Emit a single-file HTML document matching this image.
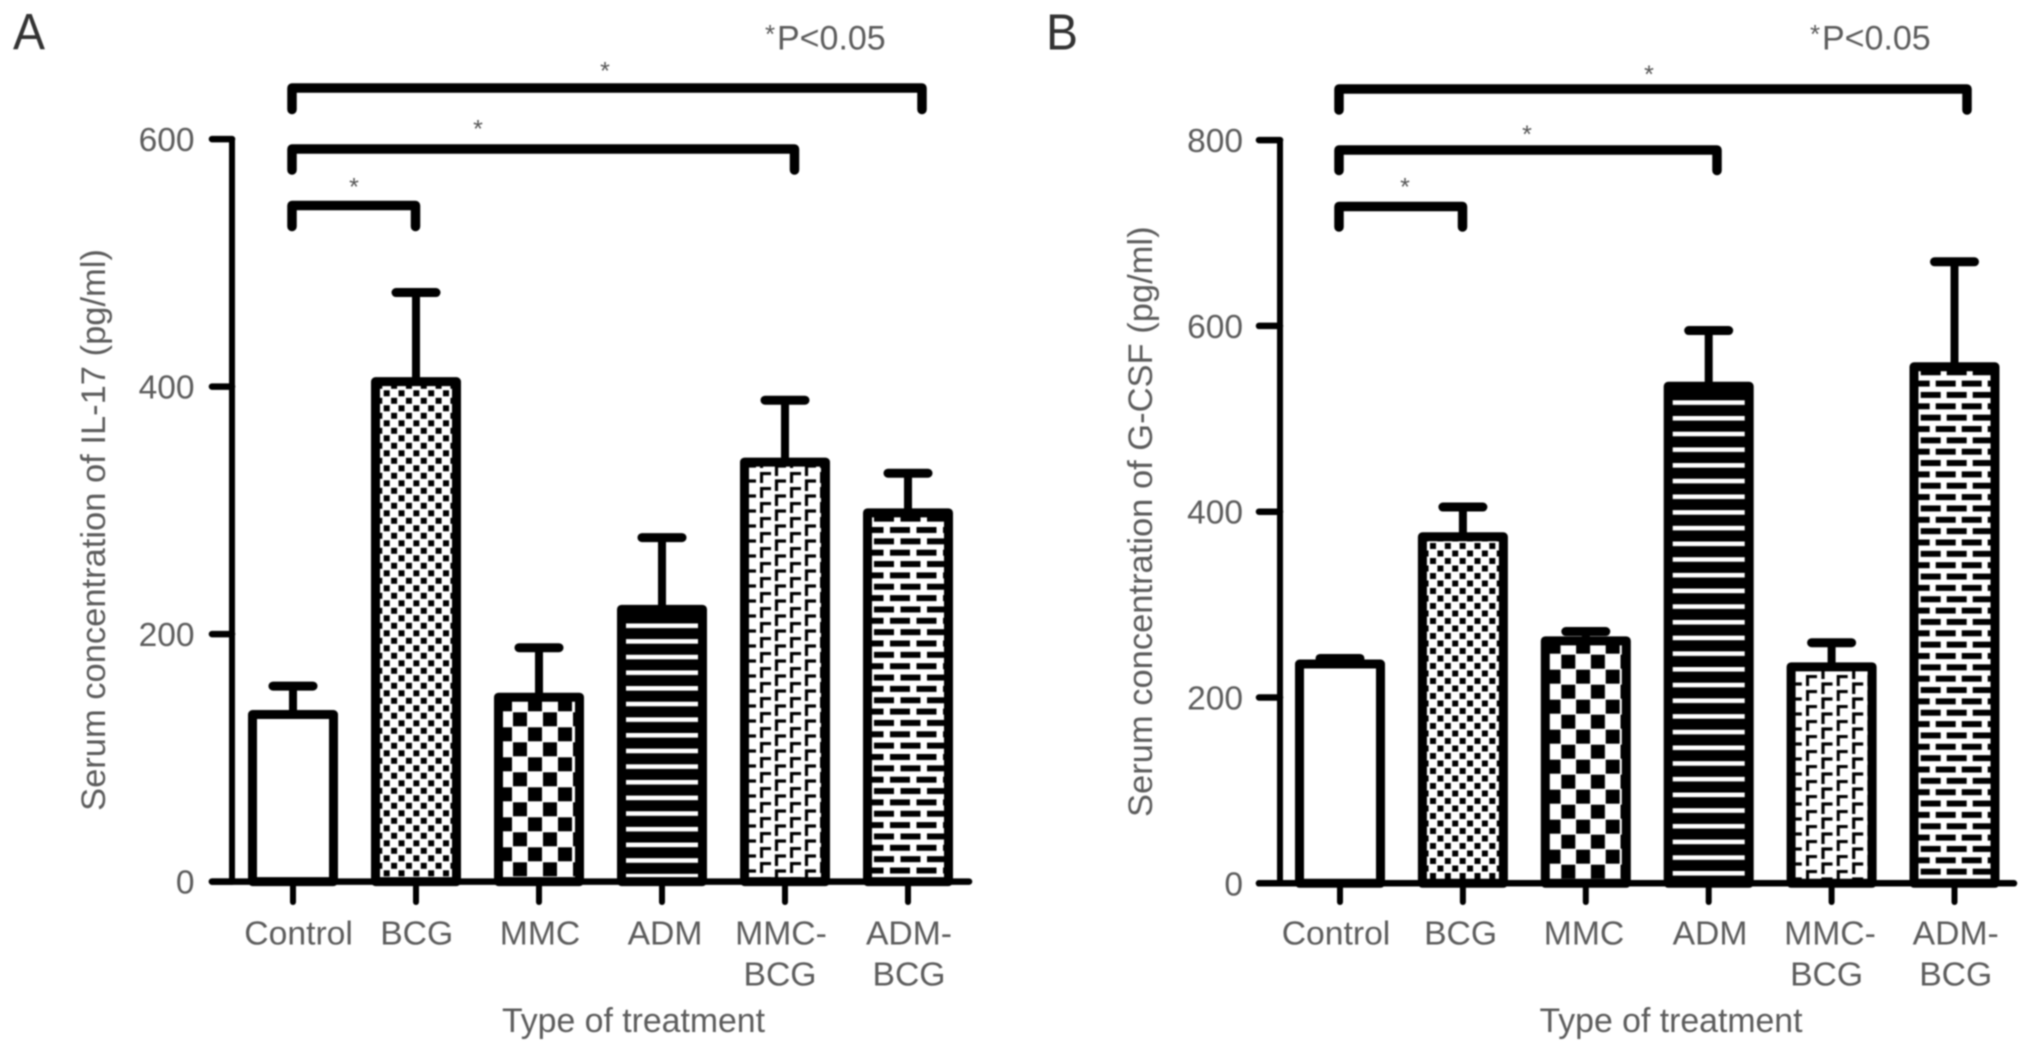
<!DOCTYPE html>
<html lang="en">
<head>
<meta charset="utf-8">
<title>Serum concentration of IL-17 and G-CSF by type of treatment</title>
<style>
html,body{margin:0;padding:0;background:#fff;}
body{width:2032px;height:1052px;overflow:hidden;}
svg{display:block;filter:blur(0.7px);}
text{font-family:"Liberation Sans",sans-serif;fill:#5c5c5c;}
</style>
</head>
<body>
<svg id="figure" xmlns="http://www.w3.org/2000/svg" width="2032" height="1052" viewBox="0 0 2032 1052">
  <defs>
    <pattern id="a-bcg" patternUnits="userSpaceOnUse" x="383.7" y="390.3" width="14.83" height="15">
      <rect width="15" height="15" fill="#fff"/><rect width="6" height="6" fill="#000"/><rect x="7.4" y="7.5" width="6" height="6" fill="#000"/>
    </pattern>
    <pattern id="a-mmc" patternUnits="userSpaceOnUse" x="513" y="712.3" width="30" height="30">
      <rect width="30" height="30" fill="#fff"/><rect width="14" height="14" fill="#000"/><rect x="15" y="15" width="14" height="14" fill="#000"/>
    </pattern>
    <pattern id="a-adm" patternUnits="userSpaceOnUse" x="0" y="701.7" width="10" height="15.65">
      <rect width="10" height="15.65" fill="#000"/><rect width="10" height="4.6" fill="#fff"/>
    </pattern>
    <pattern id="a-mmcbcg" patternUnits="userSpaceOnUse" x="760" y="472" width="30" height="15">
      <rect width="30" height="15" fill="#fff"/>
      <path d="M1.5 11V1.5H11M16.5 19V9H26M16.5 4V-6H26" fill="none" stroke="#000" stroke-width="3.2"/>
    </pattern>
    <pattern id="a-admbcg" patternUnits="userSpaceOnUse" x="890" y="527" width="26.5" height="22.7">
      <rect width="26.5" height="22.7" fill="#fff"/>
      <rect width="20" height="6" fill="#000"/><rect x="10.5" y="11.35" width="20" height="6" fill="#000"/><rect x="-16" y="11.35" width="20" height="6" fill="#000"/>
    </pattern>
    <pattern id="b-bcg" patternUnits="userSpaceOnUse" x="1430" y="543" width="14.83" height="15">
      <rect width="15" height="15" fill="#fff"/><rect width="6" height="6" fill="#000"/><rect x="7.4" y="7.5" width="6" height="6" fill="#000"/>
    </pattern>
    <pattern id="b-mmc" patternUnits="userSpaceOnUse" x="1561.3" y="654.7" width="29.6" height="30">
      <rect width="30" height="30" fill="#fff"/><rect width="14" height="14" fill="#000"/><rect x="14.8" y="15" width="14" height="14" fill="#000"/>
    </pattern>
    <pattern id="b-adm" patternUnits="userSpaceOnUse" x="0" y="400.3" width="10" height="15.69">
      <rect width="10" height="15.69" fill="#000"/><rect width="10" height="4.6" fill="#fff"/>
    </pattern>
    <pattern id="b-mmcbcg" patternUnits="userSpaceOnUse" x="1806" y="675" width="30.7" height="15">
      <rect width="31" height="15" fill="#fff"/>
      <path d="M1.5 11V1.5H11M17 19V9H26.5M17 4V-6H26.5" fill="none" stroke="#000" stroke-width="3.2"/>
    </pattern>
    <pattern id="b-admbcg" patternUnits="userSpaceOnUse" x="1935.7" y="653" width="26" height="22.7">
      <rect width="26" height="22.7" fill="#fff"/>
      <rect width="20" height="6" fill="#000"/><rect x="11" y="11.35" width="20" height="6" fill="#000"/><rect x="-15" y="11.35" width="20" height="6" fill="#000"/>
    </pattern>
  </defs>

  <text x="13" y="49.6" font-size="51" textLength="32" lengthAdjust="spacingAndGlyphs" style="fill:#333">A</text>
  <text x="1046" y="49.6" font-size="51" textLength="32" lengthAdjust="spacingAndGlyphs" style="fill:#333">B</text>

  <text x="765" y="43" font-size="26">*</text>
  <text x="777" y="49.6" font-size="34">P&lt;0.05</text>
  <text x="1810" y="43" font-size="26">*</text>
  <text x="1822" y="49.6" font-size="34">P&lt;0.05</text>

  <g fill="none" stroke="#000" stroke-width="9.5" stroke-linecap="round" stroke-linejoin="round">
    <path d="M292 109.5V88H922V109.5"/>
    <path d="M292 170V149H794.5V170"/>
    <path d="M292 226.5V205.5H415.5V226.5"/>
  </g>
  <g font-size="25" text-anchor="middle">
    <text x="605" y="79.5" style="fill:#555">*</text>
    <text x="478" y="137.5" style="fill:#555">*</text>
    <text x="354" y="195.5" style="fill:#555">*</text>
  </g>
  <g fill="none" stroke="#000" stroke-width="9.5" stroke-linecap="round" stroke-linejoin="round">
    <path d="M1339 110V89H1967V110"/>
    <path d="M1339 170.5V150H1717V170.5"/>
    <path d="M1339 227V206.5H1462.5V227"/>
  </g>
  <g font-size="25" text-anchor="middle">
    <text x="1649" y="83" style="fill:#555">*</text>
    <text x="1527" y="143" style="fill:#555">*</text>
    <text x="1405" y="195.5" style="fill:#555">*</text>
  </g>
</svg>

<script>
// ---- Chart data ----
const categories = [["Control"], ["BCG"], ["MMC"], ["ADM"], ["MMC-", "BCG"], ["ADM-", "BCG"]];
const il17Means = [135, 404, 149, 220, 339, 298];
const il17ErrorTops = [158, 476, 189, 278, 389, 330];
const il17Ticks = [0, 200, 400, 600];
const gcsfMeans = [236, 373, 261, 535, 233, 556];
const gcsfErrorTops = [242, 405, 271, 595, 259, 669];
const gcsfTicks = [0, 200, 400, 600, 800];

// ---- Layout (not data) ----
const layoutA = {
  id: "a", yAxisX: 232, axisLeft: 209, axisRight: 972, baseline: 881.6, pxPerUnit: 247.5 / 200,
  firstBar: 293, barStep: 123, tickLabelRight: 194.5,
  labelNudge: [5.6, 0.7, 1, 3, -4, 1],
  yTitle: "Serum concentration of IL-17 (pg/ml)", yTitleX: 105, yTitleY: 530,
  xTitleX: 633.5
};
const layoutB = {
  id: "b", yAxisX: 1280, axisLeft: 1256, axisRight: 2017, baseline: 883.3, pxPerUnit: 185.8 / 200,
  firstBar: 1340, barStep: 122.9, tickLabelRight: 1243,
  labelNudge: [-4, -2.3, -1.8, 1.3, -1.6, 1.2],
  yTitle: "Serum concentration of G-CSF (pg/ml)", yTitleX: 1152, yTitleY: 521.7,
  xTitleX: 1671
};
const fillSuffixes = ["", "bcg", "mmc", "adm", "mmcbcg", "admbcg"];

const SVG_NS = "http://www.w3.org/2000/svg";
const figure = document.getElementById("figure");

function make(tag, attrs, parent, content) {
  const el = document.createElementNS(SVG_NS, tag);
  for (const k in attrs) el.setAttribute(k, attrs[k]);
  if (content !== undefined) el.textContent = content;
  parent.appendChild(el);
  return el;
}

function drawPanel(layout, means, errorTops, ticks) {
  const yScale = v => layout.baseline - v * layout.pxPerUnit;
  const xScale = i => layout.firstBar + i * layout.barStep;

  const panel = make("g", {}, figure);
  
  

  // y axis line
  const yAxis = make("line", {
    x1: layout.yAxisX, x2: layout.yAxisX,
    y1: yScale(ticks[ticks.length - 1]), y2: layout.baseline,
    stroke: "#000", "stroke-width": 6, "stroke-linecap": "round"
  }, panel);
  
  

  // y ticks and labels
  ticks.forEach(t => {
    const tick = make("line", {
      x1: layout.axisLeft + 3, x2: layout.yAxisX,
      y1: yScale(t), y2: yScale(t),
      stroke: "#000", "stroke-width": 6.5, "stroke-linecap": "round"
    }, panel);
    
    

    const label = make("text", {
      x: layout.tickLabelRight, y: yScale(t) + 12,
      "text-anchor": "end", "font-size": 33.5
    }, panel, String(t));
    
    
  });

  // bars with error bars
  categories.forEach((lines, i) => {
    const cx = xScale(i);
    const top = yScale(means[i]);
    const errY = yScale(errorTops[i]);

    const stem = make("line", {
      x1: cx, x2: cx, y1: errY, y2: top,
      stroke: "#000", "stroke-width": 8
    }, panel);
    
    

    const cap = make("line", {
      x1: cx - 20, x2: cx + 20, y1: errY, y2: errY,
      stroke: "#000", "stroke-width": 9, "stroke-linecap": "round"
    }, panel);
    
    

    const fill = i === 0 ? "#fff" : "url(#" + layout.id + "-" + fillSuffixes[i] + ")";
    const bar = make("rect", {
      x: cx - 40.5, y: top, width: 81, height: layout.baseline - top,
      fill: fill, stroke: "#000", "stroke-width": 9, "stroke-linejoin": "round"
    }, panel);
    
    

    const xTick = make("line", {
      x1: cx, x2: cx, y1: layout.baseline, y2: 902,
      stroke: "#000", "stroke-width": 6, "stroke-linecap": "round"
    }, panel);
    
    

    lines.forEach((line, n) => {
      const nudge = n === 1 && i === 4 ? -5 : layout.labelNudge[i];
      const label = make("text", {
        x: cx + nudge, y: 944.7 + n * 40.9,
        "text-anchor": "middle", "font-size": 33.7
      }, panel, line);
      
      
    });
  });

  // baseline (x axis)
  const xAxis = make("line", {
    x1: layout.axisLeft + 3, x2: layout.axisRight - 3,
    y1: layout.baseline, y2: layout.baseline,
    stroke: "#000", "stroke-width": 6.5, "stroke-linecap": "round"
  }, panel);
  
  

  // axis titles
  const yTitle = make("text", {
    x: layout.yTitleX, y: layout.yTitleY,
    transform: "rotate(-90 " + layout.yTitleX + " " + layout.yTitleY + ")",
    "text-anchor": "middle", "font-size": 34.5
  }, panel, layout.yTitle);
  
  

  const xTitle = make("text", {
    x: layout.xTitleX, y: 1032, "text-anchor": "middle", "font-size": 33.8
  }, panel, "Type of treatment");
  
  
}

drawPanel(layoutA, il17Means, il17ErrorTops, il17Ticks);
drawPanel(layoutB, gcsfMeans, gcsfErrorTops, gcsfTicks);
</script>
</body>
</html>
